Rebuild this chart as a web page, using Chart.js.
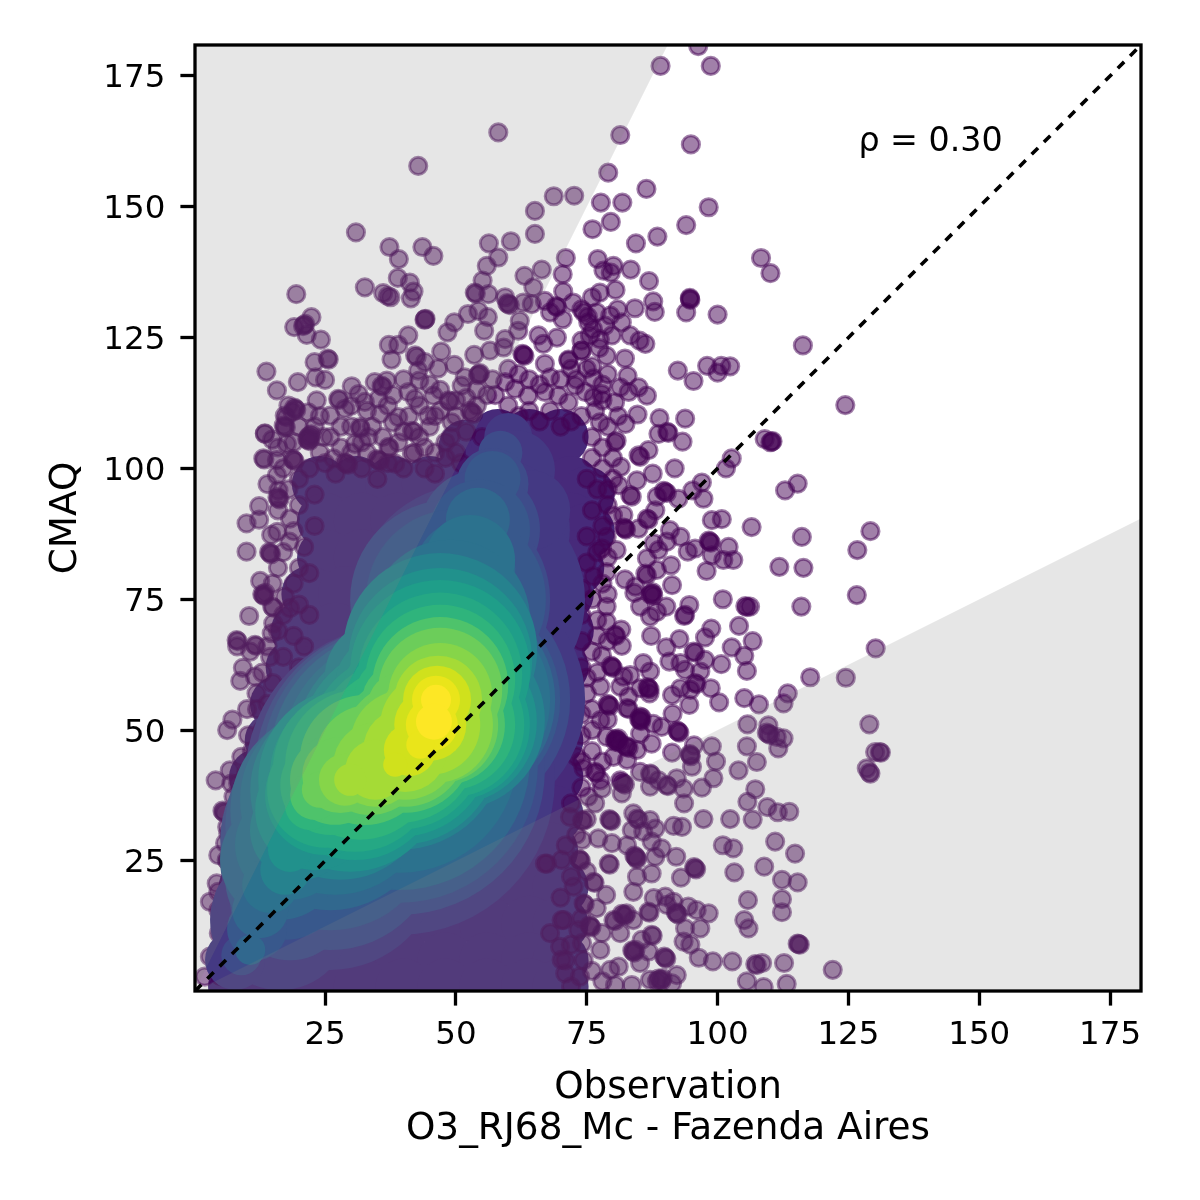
<!DOCTYPE html>
<html><head><meta charset="utf-8">
<style>html,body{margin:0;padding:0;background:#fff}canvas{display:block}</style>
<script src="https://cdn.jsdelivr.net/npm/chart.js@4"></script>
</head><body><canvas id="c" width="1200" height="1200"></canvas>
<script>
const tickValues=[25,50,75,100,125,150,175];
const xTitle=["Observation","O3_RJ68_Mc - Fazenda Aires"];
const yTitle="CMAQ";
const rhoText="ρ = 0.30";
const rhoAt=[126.9,160.6];
const axisX=[0.15,180.9];
const axisY=[0.15,180.9];
const oneToOne=[[0.15,0.15],[180.9,180.9]];
const upperBound=[[0.15,0.3],[90.45,180.9]];
const lowerBound=[[0.15,0.075],[180.9,90.45]];

const upperRightPoints=[[96.3,180.7],[89.1,176.9],[98.7,176.9],[81.4,163.7],[94.9,161.9],[79.1,156.5],[86.4,153.4],[72.6,152.1],[77.7,150.8],[81.8,150.8],[98.3,149.9],[79.6,147.1],[76.1,145.7],[94,146.5],[88.5,144.3],[84.4,143],[108.3,140.2],[110.1,137.3],[116.3,123.5],[124.4,112.1],[71,140.2],[70.4,137.1],[77.1,140],[80.1,138.7],[78.2,137.8],[79.6,137.4],[83.4,138],[86.9,135.8],[77.5,133.6],[80.5,134.1],[94.7,132.4],[94.7,132.6],[94.8,132.2],[94,129.8],[100,129.4],[87.7,131.9],[88,129.9],[84.2,130.6],[80.9,130.4],[76,132.7],[83.3,125.4],[85.1,124.4],[86.2,123.8],[82.3,121],[78.8,121.5],[77.4,123],[71.5,120.6],[74,122.5],[92.4,118.7],[95.4,116.7],[98,119.6],[100,118.3],[100.7,119.6],[102.4,119.5],[75,119],[76.3,117.2],[82.8,117.7],[84.9,115.5],[86.5,113.9],[81.4,115.5],[83,114.6],[84.7,110.3],[88.9,109.6],[93.8,109.5],[82.4,108.5],[88.7,106.6],[90.4,107],[90.6,106.8],[93.3,105.1],[109,105.6],[110.3,105.1],[110.5,105.2],[110.1,105],[80.7,105.3],[77.9,114.2],[80.4,112.6],[76.3,113.6],[77.5,108.8],[74.4,129.8],[75.3,127.9],[76.9,129.8],[79.5,129.2],[75.6,125.4],[74,124.4],[77.5,124.7],[79.8,125.4],[81.7,127.9],[75.2,129],[76.2,126.6],[78.5,127.3]];

const upperLeftPoints=[[58.1,164.2],[42.8,157.8],[68.7,152],[65.1,149.2],[65.1,144.8],[30.9,145.1],[37.3,142.3],[39.1,140],[43.6,142.3],[45.7,140.6],[56.3,143],[60.5,143.4],[58.1,140.3],[55.9,138.7],[63.1,136.8],[66.4,138],[55.1,135.9],[38.9,136.4],[41.2,135.5],[41.9,133.8],[41.4,132.5],[32.6,134.6],[36.1,133.5],[37,132.9],[37.5,132.7],[19.5,133.3],[53.6,133.6],[53.8,133.4],[56.2,133.3],[59.4,132.7],[60,131.4],[60.3,131.2],[59.8,131.6],[62.9,131.7],[64.5,131.4],[64.8,134.6],[67,132],[70.5,133.8],[72.4,131.7],[69.3,130.8],[69.1,131],[68,129.8],[70.4,128.5],[74,130.4],[22.4,128.9],[19.1,127],[21,127.4],[21.2,127.6],[20.8,127.2],[21.5,125.5],[24.2,124.6],[44.1,128.5],[44.2,128.6],[44,128.4],[52.3,129.5],[54.3,130.1],[49.7,127.9],[48.4,126],[56.1,128.9],[55.4,126.3],[62.2,128.2],[61.9,126.3],[40.9,125.4],[37.2,123.6],[39,123.6],[47.2,122.3],[25.5,121],[25.7,120.8],[23,120.3],[37.7,120.8],[42.2,121.6],[42.5,121.3],[44.1,120.3],[42.8,118.7],[46.6,119.1],[49.7,119.8],[53.5,121.7],[56.5,122.5],[59.1,123.1],[59.4,124.7],[62.9,121.7],[63.1,121.5],[62.7,121.9],[65.8,125.4],[69.3,125],[66.7,123.8],[71.5,120.8],[74,122.5],[54.4,118],[54.6,118.2],[54.2,117.8],[67,120],[68,117.4],[13.8,118.5],[15.8,114.9],[19.8,116.5],[23.2,117.4],[25,116.9],[30.1,115.7],[27.5,113.3],[27.7,113.1],[31.4,114.2],[32.6,112.7],[34.5,116.5],[36.8,116.8],[35.8,115.8],[36,115.6],[35.2,113.3],[40.9,114.6],[43,116.8],[42.2,113.3],[45.7,113.9],[48.6,113],[48.8,112.8],[51.1,115.8],[51.7,117.4],[23.4,113],[26,110.1],[28.8,111.4],[19.3,111.4],[19.5,111.2],[19.1,111.6],[18.8,110.8],[17.3,110.1],[17.6,109.8],[21.8,110.7],[22.1,106.3],[22.4,106.5],[21.8,106],[13.5,106.6],[31.7,107.9],[35.5,110.4],[39,109.8],[38,108.8],[41.6,107.2],[41.9,107],[44.7,110.1],[49.2,108.8],[53,110.7],[53.3,110.4],[52.7,111]];

const midRightPoints=[[102.7,101.9],[101.6,100],[91.8,100],[87.6,99],[86.8,103.5],[84.9,102.5],[85.2,102.2],[80.4,105],[81.5,100.3],[84.6,97.7],[81.1,96.8],[83.3,94.9],[83.6,94.6],[97,97.3],[95.2,95.8],[97.3,94.2],[90,95.5],[90.3,95.3],[89.7,95.7],[88.4,94.6],[92.5,94.2],[88.1,92],[115.3,97.1],[112.9,95.8],[129.2,88],[126.7,84.4],[106.5,88.8],[116.1,86.9],[100.8,90.3],[98.9,90.1],[90.9,88.2],[92.9,86.9],[86.5,90.4],[86.8,90.2],[82,91.1],[82.3,88.5],[82.5,88.3],[82.1,88.7],[84.9,88.5],[78.8,86.9],[77.9,84.7],[80.7,84.4],[87.8,85.7],[90.3,86],[88.7,84.4],[94.3,84.1],[95.7,84.7],[98.5,86],[98.7,85.8],[98.3,86.2],[98.9,83.4],[102.1,85],[101.1,82.5],[103,82.5],[86.5,82.8],[91.1,81.5],[111.8,81.2],[116.4,81],[97.9,80.4],[86.2,79.9],[86.5,79.6],[88.4,80.6],[76.3,79.4],[78.8,80.2],[82.3,78.8],[91.3,77.7],[84.3,77.4],[84.1,76.2],[87.4,76.1],[87.6,76.3],[87.2,75.9],[87.7,75.7],[126.6,75.8],[101,75],[116,73.6],[105.3,73.7],[105.6,73.5],[106.2,73.6],[90.2,73.6],[94.6,73.9],[93.8,72],[93.6,71.8],[85.2,73.6],[88.4,72.6],[87.1,71.7],[104.1,69.9],[98.8,69.4],[97.6,67.7],[106.7,67],[87.3,68],[92.7,67.4],[90.2,65.8],[102.7,65.8],[105.1,64.2],[130.2,65.6],[95.4,65],[95.7,64.8],[97.6,63.4],[90.8,63.1],[92.9,62.8],[100.7,62.6],[105.6,61.3],[93.8,61.5],[96.7,61.2],[117.7,60.1],[124.5,60],[95.7,59],[96,58.8],[98.7,58],[91.3,56.7],[94.8,57.7],[92.9,58],[94.6,54.8],[100.3,55.3],[105.1,56.1],[107.9,54.9],[113.4,57],[112.6,55.1],[91.4,53.1],[81.6,69.2],[81.7,66.1],[80.4,68.2],[80.6,68],[78.8,70.7],[78.8,73.6],[77.9,64.3],[79.8,62.1],[80,61.9],[79.6,62.3],[82,60.2],[85.8,62.8],[87.1,61.2],[83.3,60.5],[81.4,58.3],[83,56.4],[86.8,58],[87,57.8],[86.6,58.2],[87,57],[85.2,58],[79.2,54.8],[79.4,54.6],[79,55],[82.7,54.2],[83,54],[85.2,52.6],[85.5,52.4],[77.6,58.3],[75,57]];

const lowerRightPoints=[[105.7,51.1],[109.7,50.9],[129,51.1],[112.6,48.4],[109.7,49.3],[110,49.1],[109.4,49.5],[111.3,48.7],[111.6,46.5],[105.6,46.9],[107.5,43.9],[131,45.8],[131.2,45.7],[130.1,45.8],[128.5,42.7],[129.2,41.7],[129,41.9],[104,42.3],[99.7,44],[98.9,46.9],[95.5,47.1],[91.3,45.7],[94.8,45.2],[94.9,45],[94.7,45.4],[95.1,43],[92.5,49.7],[92.7,49.5],[92.3,49.9],[99.2,40.8],[97,39],[92.2,40.8],[93.5,38.8],[93.6,36],[107.2,38.7],[105.7,36.3],[109.5,35.3],[111.5,34.3],[113.7,34.4],[106.7,32.9],[102.4,33],[97.3,33],[111,28.7],[114.8,26.4],[101,28],[103,27.4],[108.9,23.9],[103.2,22.8],[112.3,21.4],[115.3,20.9],[105.8,17.5],[112.3,17.7],[112.3,15.2],[105.1,13.7],[105.9,12.1],[115.5,9.1],[115.7,9],[115.3,9.2],[112.7,5.5],[122,4.2],[102.8,5.8],[99.1,5.8],[96.4,6.5],[107.2,5.3],[107.5,5.1],[108.5,5.5],[105.6,2],[108.8,0.9],[113.2,1.5],[92.1,25.8],[95.7,23.6],[95.9,23.4],[95.5,23.8],[93,21.8],[98.3,15],[96.7,12.1],[96,15.6],[94.4,16.3],[94.8,9],[93.5,9.6],[92.2,3.2],[90,6.5],[90.2,6.3],[89.8,6.7],[91.6,17.2],[90,18.2],[87.8,17.9],[92.2,15],[92.4,14.8],[92,15.2],[93.2,31.5],[91.6,31.7],[88.1,31.2],[87.1,32.8],[84.6,33.1],[84.9,32.9],[83.9,34.1],[79.5,32.8],[79.7,32.6],[79.3,33],[83.6,30.9],[85.8,30.6],[87.4,28.7],[89.3,27.4],[88.1,25.8],[84.3,25.8],[84.5,25.6],[84.1,26],[84.6,25.3],[82.7,28],[79.8,28.4],[77.2,29.3],[79.2,24.5],[79.4,24.3],[84.6,22],[87.4,22.6],[83.9,19.1],[78.7,18.5],[76.3,21],[76.5,20.8],[86.8,15.3],[87,15.1],[82,14.7],[82.3,14.5],[81.7,14.9],[82.6,15],[80.1,13.7],[80.4,13.5],[83.9,13.7],[90.3,16.6],[93.8,12.1],[87.4,10.9],[87.6,10.7],[85.5,9.9],[81.4,11.2],[77.9,11.2],[83.9,7.7],[84.1,7.5],[83.7,7.9],[84.3,8],[86.8,7.7],[85.2,5.5],[81.1,4.8],[79.5,4.2],[89,2.3],[89.3,2.1],[88.7,2.5],[89.5,2.6],[88.4,2],[87.1,2.3],[83.6,1.3],[80.4,1.3],[91.3,1.6],[75.7,12.5],[75.9,12.3],[75.5,12.7],[74.4,16.9],[74.6,16.7],[76.9,16],[70.6,13.7],[73.4,11.8],[69.9,8.6],[77.6,8],[74.1,9.3],[70.9,6],[74.4,6],[70.9,3.5],[73.7,2.9],[85.2,51.9],[85.4,51.7],[85,52.1],[87.7,51.2],[89.3,50.6],[77.6,51.9],[80.7,48.1],[80.9,47.9],[80.5,48.3],[81,48.4],[80.4,47.8],[81.2,47.6],[78.8,48.7],[82.7,46.8],[83,46.6],[82.4,47],[85.2,49.3],[87.4,47.4],[84.6,46.2],[80.1,44.9],[82.7,44.3],[85.2,42],[87.1,41.7],[87.3,41.5],[88.7,40.4],[90.3,39.5],[90.5,39.3],[87.1,39.2],[82,39.8],[82.3,39.6],[81.7,40],[81.4,40.4],[81.7,37.9],[76.6,42],[76.8,41.8],[74.4,42.7],[77.6,40.4],[77.9,38.8],[76.6,36],[75.3,37.3],[74.1,32.8],[74.3,32.6],[71.8,33.4],[74.1,29],[73.7,25.2],[73.9,25],[73.5,25.4],[70.2,25.2],[67.4,24.5],[72.5,20.1],[68,11.2]];

const leftEdgePoints=[[13.5,106.7],[14.9,105.5],[17.3,108],[17.5,107.8],[17.1,108.2],[17.7,104.7],[21.8,105.4],[22,105.2],[21.6,105.6],[22.2,105.8],[24.7,106],[13.2,101.9],[13.4,101.7],[15.8,101.6],[19,101.6],[19.2,101.4],[18.8,101.8],[26.6,101.9],[29.1,100.9],[29.4,100.7],[28.8,101.1],[35.2,101.6],[35.5,101.4],[34.9,101.8],[37.1,104.1],[37.3,103.9],[30.7,104.7],[31.8,107.6],[33.3,106],[38.4,100.9],[41.6,102.8],[15.8,98.7],[16.1,95.8],[16.1,94.3],[16.3,94.1],[15.9,94.5],[12.4,92.8],[12.4,90.2],[10,89.5],[14.7,87.3],[15.9,87.9],[18.3,90.4],[10,84.1],[14.5,83.8],[14.7,83.6],[14.3,84],[18.2,86],[12.6,78.5],[13.2,75.8],[13.4,75.6],[13,76],[13.6,76.2],[14.9,73.6],[15.1,73.4],[10.5,71.8],[8.1,67.2],[8.3,67],[8.2,66],[11.6,66.3],[11.8,66.1],[10.7,65],[9.3,61.9],[8.8,59.4],[11.6,60.2],[11.9,57],[10.1,54],[7.3,52],[6.3,50],[14.8,68.5],[14.5,64],[18.3,73.3],[17.3,75.5],[15.1,70.4],[10.3,49],[9,44.9],[6.8,42.3],[4.1,40.4],[7.1,39.8],[7.5,37.3],[5.6,34.4],[5.8,34.2],[5.4,34.6],[6.3,31.5],[5.9,28.4],[4.6,26.1],[6.2,25.2],[6.4,25],[7.2,23.3],[4.3,20.7],[3,17.2],[4.6,19.1],[4.6,15.6],[5.9,14.4],[4.7,11.2],[3,6.7],[2,2.9],[4.6,6.4],[8.4,22.6],[6.5,30.3],[8.4,34.7],[8.4,39.8],[67,24.5],[70.2,13.7],[70.2,6.1]];

const denseTopPoints=[[26,106],[28,104],[30,108],[33,103],[34,108],[36,106],[39,105],[41,110],[43,106],[45,108],[46,103],[47,111],[48,105],[50,110],[50,103],[52,107],[54,112],[55,106],[56,114],[57.5,114],[59.4,116.5],[61.3,115.2],[63.8,113.9],[67,114.6],[69.6,113.9],[71.5,112.6],[72.8,115.8],[74.7,114.6],[76.6,111],[78,113],[60,112],[62,110],[64,111],[66,109],[68,111],[70,108],[72,109],[74,110],[76,106],[78,104],[76,102],[78,100],[75,98],[77,96],[79,93],[76,92],[78,89],[75,87],[77,84],[75,82],[74,77],[76,75],[74,72],[77,71],[74,67],[76,65],[74,62],[75,60],[74,53],[76,54],[74,49],[76,46],[73,45],[74,39],[72,36],[75,33],[45,116],[47,115],[50,113],[52,113.5],[54,115],[57,117],[60,119],[62,118],[64,117],[66,116],[70,117],[72,119],[73,117],[76,119.5],[79,118],[78,116],[81,110],[79,108],[80,102],[80,98],[79,96],[80,91],[79,83],[78,78],[79,76],[77,68],[79,67],[77,61],[76,50],[79,52],[78,44],[74,44],[73,30],[71,28],[75,23],[72,22],[70,18],[74,14],[72,9],[76,4],[72,1],[78,2],[40,117],[38,114],[33,111],[30,112],[24,110],[43,112],[37,112],[46,110],[25,101],[27,99],[30,103],[32,100],[35,98],[37,101],[40,100],[42,103],[44,100],[46,99],[48,102],[24,103],[28,108],[32,105],[40,107],[44,104],[49,106],[51,101]];
const denseLeftPoints=[[18,112],[20,108],[16,104],[19,105],[23,108],[17,100],[20,98],[14,97],[18,96],[22,100],[16,92],[20,93],[23,95],[19,88],[21,85],[17,84],[20,81],[23,89],[16,81],[19,78],[22,80],[15,78],[17,72],[20,74],[22,72],[16,69],[19,68],[21,66],[14,66],[17,64],[20,62],[13,61],[15,59],[18,58],[12,54],[14,55],[16,52],[13,50],[11,46],[14,47],[10,42],[12,40],[9,36],[11,33],[8,30],[10,28],[8,25],[9,20],[7,17],[8,13],[6,9],[7,5],[5,3]];

const density0=[[52,104],[58,106],[64,106],[70,106],[24,97],[31,97],[38,97],[45,97],[52,97],[59,97],[66,97],[72,97],[75,95],[25,90],[32,90],[39,90],[46,90],[53,90],[60,90],[67,90],[72,90],[75,88],[25,83],[32,83],[39,83],[46,83],[53,83],[60,83],[67,83],[71,83],[73,81],[22,76],[29,76],[36,76],[43,76],[57,76],[64,76],[71,76],[20,69],[27,69],[34,69],[41,69],[62,69],[71,69],[19,62],[25,62],[32,62],[62,62],[70,62],[16,55],[23,55],[30,55],[66,55],[69,55],[15,48],[22,48],[66,48],[69,48],[12,41],[21,41],[68,41],[69,41],[12,34],[20,34],[68,34],[69,34],[11,27],[19,27],[36,27],[44,27],[52,27],[60,27],[68,27],[10,20],[18,20],[25,20],[32,20],[40,20],[48,20],[56,20],[64,20],[70,20],[9,13],[17,13],[24,13],[32,13],[40,13],[48,13],[56,13],[64,13],[70,13],[8,6],[16,6],[24,6],[32,6],[40,6],[48,6],[56,6],[64,6],[70,6],[8,1],[16,1],[24,1],[32,1],[40,1],[48,1],[56,1],[64,1],[70,1]];
const density1=[[60,106],[61.3,99.7],[58.4,88.3],[52.7,74.9],[50.8,55.8],[39.3,40.5],[26,25.2],[16.4,13.7],[7.8,6.1],[8.8,17.5],[64.2,92]];
const density2=[[58.5,103],[57,97],[54.6,88.3],[48.9,74.9],[48.9,55.8],[39.3,42.4],[26,29],[18.3,17.5],[9,7],[12,11]];
const density3=[[57,98],[54.6,88.3],[50,75],[48.9,55.8],[39.3,43.4],[26,31.8],[17.4,21.4],[12,12]];
const density4=[[54.2,90.2],[51.8,80.6],[47.9,69.1],[48.9,55.8],[39.3,44.3],[26,34.7],[16.4,25.2],[12.6,15.6],[10.7,8]];
const density5=[[52.7,82.5],[48.9,71.1],[48.9,55.8],[39.3,45.3],[26.9,36.7],[18.3,28.1],[14.5,20.4]];
const density6=[[47,65.3],[49.8,52],[39.3,47.2],[27.9,38.6],[20.2,30.9],[17.4,23.3],[36,60]];
const density7=[[47,63.4],[49.8,51.6],[39.3,47.2],[29.8,40.5],[23.1,34.7],[36.5,58.6],[18.3,27.1]];
const density8=[[47,61.5],[49.8,51],[39.3,47.2],[30.7,41.4],[25,37.6],[37,57.7]];
const density9=[[47,60.6],[49.3,51],[39.3,47.2],[30.7,42.4],[25,38.6],[37.5,57.7]];
const density10=[[47,59.6],[48.9,51],[39.3,47.2],[31.7,43.4],[26,39.5],[22.1,35.7],[38,56.7]];
const density11=[[47,58.6],[47.9,51],[40.3,47.2],[32.6,44.3],[26.9,40.5],[23.1,37.6],[38.8,55.8]];
const density12=[[47,57.7],[47,51],[40.3,47.2],[33.6,44.3],[27.9,41.4],[24,38.6],[39.3,54.8]];
const density13=[[47,56.7],[46,51],[40.3,47.2],[34.6,43.4],[28.8,40.5],[42.2,55.8]];
const density14=[[46.6,55.8],[45.1,51],[40.3,46.2],[34.6,42.4],[29.8,40.5]];
const density15=[[46.4,55.8],[45.1,51],[41.2,46.2],[38.4,43.4]];
const density16=[[46.2,55.8],[45.4,51],[43.2,47.2]];
const density17=[[46.2,55.8],[45.8,51.6]];

const toXY=a=>a.map(p=>({x:p[0],y:p[1]}));
const levels=[
 [density1,'#443983',[24,40,70,115,125,155,110,70,30,26,40]],
 [density2,'#3e4c8a',[22,36,60,100,120,145,110,60,20,26]],
 [density3,'#38588c',[28,50,90,110,138,105,60,30]],
 [density4,'#31688e',[32,50,80,105,130,100,60,28,15]],
 [density5,'#2c728e',[45,80,100,118,95,55,28]],
 [density6,'#26828e',[97,90,105,90,50,25,58]],
 [density7,'#21918c',[92,82,100,92,60,50,22]],
 [density8,'#1f9e89',[90,75,92,85,60,45]],
 [density9,'#25a884',[82,72,85,82,58,40]],
 [density10,'#2fb47c',[75,65,78,75,50,25,38]],
 [density11,'#4ec36b',[68,60,68,65,45,25,35]],
 [density12,'#6ccd5a',[62,58,62,55,38,18,32]],
 [density13,'#86d549',[52,58,55,42,26,28]],
 [density14,'#a5db36',[44,50,42,30,16]],
 [density15,'#d0e11c',[34,36,26,12]],
 [density16,'#eae51a',[24,26,14]],
 [density17,'#fde725',[15,18]]];
const smallStyle={type:'scatter',pointRadius:8.6,pointBorderWidth:3,pointBackgroundColor:'rgba(68,1,84,0.5)',pointBorderColor:'rgba(68,1,84,0.5)',showLine:false};
const datasets=[];
let ord=100;
datasets.push({type:'scatter',data:toXY(density0),pointRadius:28,pointBorderWidth:0,pointBackgroundColor:'#472a7a',showLine:false,order:ord--});
[upperRightPoints,upperLeftPoints,midRightPoints,lowerRightPoints,leftEdgePoints,denseTopPoints,denseLeftPoints].forEach(p=>datasets.push({...smallStyle,data:toXY(p),order:ord--}));
levels.forEach(l=>datasets.push({type:'scatter',data:toXY(l[0]),pointRadius:l[2],pointBorderWidth:0,pointBackgroundColor:l[1],showLine:false,order:ord--}));
const grey='rgba(128,128,128,0.2)';
datasets.push({type:'line',data:toXY(upperBound),fill:'end',backgroundColor:grey,borderWidth:0,pointRadius:0,tension:0,order:3});
datasets.push({type:'line',data:toXY(lowerBound),fill:'start',backgroundColor:grey,borderWidth:0,pointRadius:0,tension:0,order:2});
datasets.push({type:'line',data:toXY(oneToOne),fill:false,borderColor:'#000',borderWidth:3.6,borderDash:[9,8.4],pointRadius:0,tension:0,order:1});

const font='"DejaVu Sans"';
const frame={id:'frame',afterDraw(ch){
  const c=ch.ctx,a=ch.chartArea;
  c.save();c.strokeStyle='#000';c.lineWidth=3.3;
  c.strokeRect(a.left,a.top,a.right-a.left,a.bottom-a.top);
  c.fillStyle='#000';c.font='33.3px '+font;c.textAlign='left';c.textBaseline='alphabetic';
  c.fillText(rhoText,ch.scales.x.getPixelForValue(rhoAt[0]),ch.scales.y.getPixelForValue(rhoAt[1]));
  c.restore();
}};
const setTicks=s=>{s.ticks=tickValues.map(v=>({value:v}));};
const axisCommon={
  type:'linear',afterBuildTicks:setTicks,
  grid:{drawOnChartArea:false,drawTicks:true,tickLength:14.6,tickWidth:3.3,tickColor:'#000'},
  border:{display:false},
};
new Chart(document.getElementById('c'),{
  type:'scatter',
  data:{datasets},
  plugins:[frame],
  options:{
    responsive:false,animation:false,devicePixelRatio:1,
    events:[],
    layout:{autoPadding:false,padding:{left:0,top:45,right:59,bottom:0}},
    plugins:{legend:{display:false},tooltip:{enabled:false}},
    scales:{
      x:{...axisCommon,min:axisX[0],max:axisX[1],
        afterFit(s){s.height=209;},
        ticks:{color:'#000',font:{family:font,size:32.5},padding:10,maxRotation:0,autoSkip:false},
        title:{display:true,text:xTitle,color:'#000',font:{family:font,size:37.4,lineHeight:1.1},padding:{top:0,bottom:50}}},
      y:{...axisCommon,min:axisY[0],max:axisY[1],
        afterFit(s){s.width=195;},
        ticks:{color:'#000',font:{family:font,size:32.5},padding:15,labelOffset:3,autoSkip:false},
        title:{display:true,text:yTitle,color:'#000',font:{family:font,size:37.4},padding:{top:44,bottom:0}}}
    }
  }
});
</script></body></html>
